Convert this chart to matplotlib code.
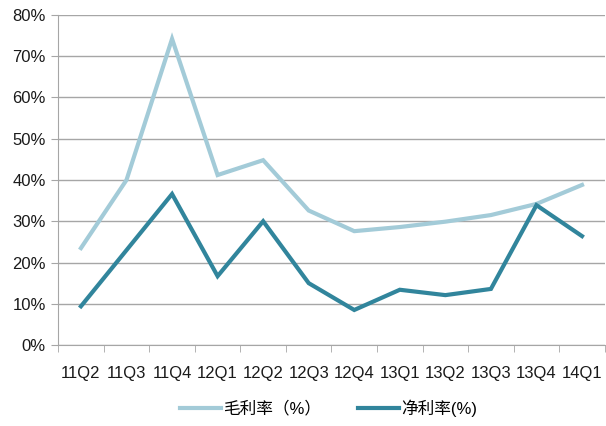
import numpy as np
import matplotlib.pyplot as plt

plt.rcParams['font.family'] = ['Liberation Sans', 'Noto Sans CJK SC', 'DejaVu Sans']

quarters = ['11Q2', '11Q3', '11Q4', '12Q1', '12Q2', '12Q3',
            '12Q4', '13Q1', '13Q2', '13Q3', '13Q4', '14Q1']
gross_margin = [23.5, 40.0, 74.2, 41.2, 44.8, 32.6, 27.6, 28.6, 29.9, 31.5, 34.2, 38.8]
net_margin = [9.4, 23.0, 36.6, 16.7, 30.0, 15.0, 8.5, 13.4, 12.1, 13.6, 33.9, 26.4]

light = '#A3CBD8'
dark = '#31859C'
grid = '#A6A6A6'

fig = plt.figure(figsize=(6.06, 4.26), dpi=100)
ax = fig.add_axes([0.096, 0.19, 0.902, 0.775])

x = np.arange(len(quarters))
ax.plot(x, gross_margin, color=light, lw=3, label='毛利率（%）', solid_joinstyle='miter')
ax.plot(x, net_margin, color=dark, lw=3, label='净利率(%)', solid_joinstyle='miter')

ax.set_xlim(-0.5, len(quarters) - 0.5)
ax.set_ylim(0, 80)
ax.set_yticks(np.arange(0, 81, 10))
ax.set_yticklabels([f'{v}%' for v in range(0, 81, 10)])
ax.set_xticks(x)
ax.set_xticklabels(quarters)
ax.set_xticks(np.arange(-0.5, len(quarters)), minor=True)

ax.grid(axis='y', color=grid, lw=1)
ax.set_axisbelow(True)
for s in ['top', 'right']:
    ax.spines[s].set_visible(False)
ax.spines['left'].set_color(grid)
ax.spines['bottom'].set_color(grid)
ax.tick_params(axis='x', which='major', length=0, pad=15, labelsize=12, colors='#1a1a1a')
ax.tick_params(axis='x', which='minor', length=5, color=grid)
ax.tick_params(axis='y', length=5, color=grid, labelsize=12, colors='#1a1a1a', pad=4)

ax.legend(loc='center', bbox_to_anchor=(0.494, -0.19), ncol=2, frameon=False,
          fontsize=12, handlelength=2.5, columnspacing=2.2, handletextpad=0.1)

fig.savefig('out.png', dpi=100)
